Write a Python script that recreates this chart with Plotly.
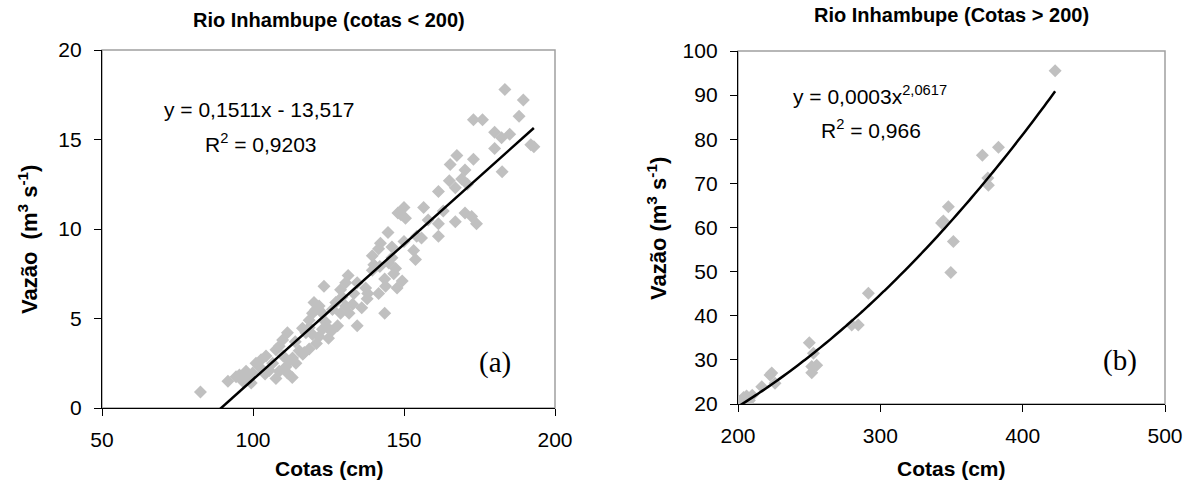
import plotly.graph_objects as go

W, H = 1191, 486

# ---- Rio Inhambupe, cotas < 200 ----
cota_a = [183.4, 189.5, 188.1, 173.0, 176.0, 180.0, 182.3, 180.0, 192.0, 182.5,
          167.5, 165.3, 173.0, 170.2, 169.1, 167.0, 161.4, 156.5, 148.0, 150.0,
          149.0, 167.0, 170.2, 172.4, 174.0, 161.4, 161.4, 154.2, 155.8, 153.2,
          153.8, 144.7, 142.2, 141.6, 146.0, 146.0, 139.5, 140.0, 139.5, 147.2,
          146.6, 149.4, 147.7, 143.6, 143.9, 141.6, 137.3, 137.8, 134.5, 133.4,
          131.5, 130.7, 143.6, 134.5, 123.5, 129.0, 129.5, 127.4, 126.3, 130.7,
          131.8, 129.0, 120.2, 121.9, 123.0, 119.7, 124.0, 125.2, 123.0, 121.9,
          118.6, 117.5, 119.7, 118.6, 117.0, 115.3, 116.5, 120.8, 118.6, 116.4,
          111.4, 109.8, 108.7, 107.6, 113.1, 114.2, 110.9, 111.4, 108.7, 107.6,
          105.4, 106.5, 104.3, 102.7, 102.1, 101.0, 97.7, 99.9, 95.5, 99.4,
          94.4, 96.6, 91.7, 82.6, 126.0, 128.0, 125.0, 121.0, 113.0, 112.0,
          114.0, 110.0, 104.0, 98.0, 133.0, 136.0, 138.0, 142.0, 145.0, 150.0,
          158.0, 163.0, 165.0, 171.0, 185.0, 150.5, 193.0]
vazao_a = [17.8, 17.2, 16.3, 16.1, 16.1, 15.4, 15.1, 14.5, 14.7, 13.2,
           14.1, 13.6, 13.9, 13.3, 12.8, 12.3, 12.1, 11.2, 10.9, 11.2,
           10.8, 10.4, 10.9, 10.7, 10.3, 10.3, 9.6, 9.6, 9.5, 8.8,
           8.3, 9.8, 9.2, 8.9, 9.0, 8.4, 8.5, 8.0, 7.7, 7.8,
           7.5, 7.1, 6.7, 7.2, 6.8, 6.4, 6.7, 6.1, 7.0, 6.4,
           7.4, 7.0, 5.3, 4.6, 6.8, 6.6, 6.2, 5.9, 5.5, 5.7,
           5.3, 5.3, 5.9, 5.7, 5.3, 5.3, 4.8, 4.4, 4.4, 4.0,
           4.5, 4.2, 4.1, 3.3, 3.1, 3.2, 3.0, 5.5, 4.9, 4.45,
           4.2, 3.8, 3.45, 3.25, 2.8, 2.5, 2.3, 1.95, 2.05, 1.65,
           2.1, 2.5, 2.9, 2.7, 2.3, 2.5, 2.05, 1.95, 1.85, 1.4,
           1.75, 1.5, 1.5, 0.9, 4.3, 4.6, 3.9, 3.6, 1.7, 2.6,
           3.7, 2.9, 1.9, 1.8, 5.8, 5.6, 6.4, 7.9, 8.1, 9.3,
           10.5, 11.0, 12.7, 12.5, 15.3, 10.6, 14.6]

# linear trendline y = a x + b
LIN_A, LIN_B = 0.1511, -13.517
EQ_A = "y = 0,1511x - 13,517"
R2_A = "0,9203"

# ---- Rio Inhambupe, cotas > 200 ----
cota_b = [201, 204, 206, 208, 210, 216.7, 222.5, 223.7, 226, 250.1,
          253, 251.8, 255.3, 251.8, 279.9, 284.5, 291.6, 343, 344.3, 347.8,
          349.5, 351.3, 371.7, 375.5, 375.9, 383, 422.8]
vazao_b = [20.5, 21.5, 21.8, 20.8, 22.0, 23.9, 26.6, 27.0, 24.7, 33.9,
           31.5, 28.5, 28.8, 27.1, 37.9, 37.9, 45.1, 61.0, 61.5, 64.7,
           49.8, 56.8, 76.4, 71.2, 69.6, 78.2, 95.5]

# power trendline y = a x^b (coefficient printed rounded as 0,0003)
POW_A, POW_B = 0.00035, 2.0617
EQ_B = "y = 0,0003x<sup>2,0617</sup>"
R2_B = "0,966"

x_ticks_a = [50, 100, 150, 200]
y_ticks_a = [0, 5, 10, 15, 20]
x_ticks_b = [200, 300, 400, 500]
y_ticks_b = [20, 30, 40, 50, 60, 70, 80, 90, 100]

# trendline samples over the observed range
n = 60
xa0, xa1 = min(cota_a), max(cota_a)
line_xa = [xa0 + (xa1 - xa0) * i / (n - 1) for i in range(n)]
line_ya = [LIN_A * x + LIN_B for x in line_xa]
xb0, xb1 = min(cota_b), max(cota_b)
line_xb = [xb0 + (xb1 - xb0) * i / (n - 1) for i in range(n)]
line_yb = [POW_A * x ** POW_B for x in line_xb]


def px(x):
    return x / W


def py(y):
    return 1 - y / H


FONT = "Liberation Sans, Arial, sans-serif"
SERIF = "Liberation Serif, Times New Roman, serif"
GRAY = "#c0c0c0"

fig = go.Figure()
mk = dict(symbol="diamond", size=10, color=GRAY, line=dict(width=0))
fig.add_trace(go.Scatter(x=cota_a, y=vazao_a, mode="markers", marker=mk,
                         xaxis="x", yaxis="y", showlegend=False))
fig.add_trace(go.Scatter(x=line_xa, y=line_ya, mode="lines",
                         line=dict(color="black", width=2.5),
                         xaxis="x", yaxis="y", showlegend=False))
fig.add_trace(go.Scatter(x=cota_b, y=vazao_b, mode="markers", marker=mk,
                         xaxis="x2", yaxis="y2", showlegend=False))
fig.add_trace(go.Scatter(x=line_xb, y=line_yb, mode="lines",
                         line=dict(color="black", width=2.5, shape="spline"),
                         xaxis="x2", yaxis="y2", showlegend=False))

ax_common = dict(showgrid=False, zeroline=False, showline=True, linecolor="black",
                 linewidth=1.3, ticks="outside", ticklen=7, tickwidth=1.3,
                 tickcolor="black", tickfont=dict(family=FONT, size=21, color="black"),
                 automargin=False, fixedrange=True)

fig.update_layout(
    width=W, height=H, margin=dict(l=0, r=0, t=0, b=0),
    paper_bgcolor="white", plot_bgcolor="white",
    xaxis=dict(ax_common, domain=[px(102), px(555)], range=[50, 200],
               tickvals=x_ticks_a, anchor="y", ticklabelstandoff=6),
    yaxis=dict(ax_common, domain=[py(408), py(50)], range=[0, 20],
               tickvals=y_ticks_a, anchor="x", ticklabelstandoff=8),
    xaxis2=dict(ax_common, domain=[px(738), px(1165)], range=[200, 500],
                tickvals=x_ticks_b, anchor="y2", ticklabelstandoff=6),
    yaxis2=dict(ax_common, domain=[py(404), py(51)], range=[20, 100],
                tickvals=y_ticks_b, anchor="x2", ticklabelstandoff=8),
)

# plot-area frames
for xr, yr in (("x domain", "y domain"), ("x2 domain", "y2 domain")):
    fig.add_shape(type="rect", xref=xr, yref=yr, x0=0, x1=1, y0=0, y1=1,
                  line=dict(color="#a0a0a0", width=1.5), layer="below")


def label(text, x, y, size=21, bold=False, family=FONT, angle=0):
    if bold:
        text = "<b>" + text + "</b>"
    fig.add_annotation(text=text, x=px(x), y=py(y), xref="paper", yref="paper",
                       showarrow=False, xanchor="center", yanchor="middle",
                       textangle=angle, font=dict(family=family, size=size, color="black"))


NB = "\u00a0"
# titles
label("Rio Inhambupe (cotas < 200)", 329, 20, size=20, bold=True)
label("Rio Inhambupe (Cotas > 200)", 951, 15, size=20, bold=True)
# axis titles
label("Cotas (cm)", 329, 468, size=21, bold=True)
label("Cotas (cm)", 951, 468, size=21, bold=True)
label("Vazão" + NB + NB + "(m<sup>3</sup> s<sup>-1</sup>)", 28, 240, size=22, bold=True, angle=-90)
label("Vazão (m<sup>3</sup> s<sup>-1</sup>)", 657, 228, size=22, bold=True, angle=-90)
# trendline equations
label(EQ_A, 259, 110)
label("R<sup>2</sup> = " + R2_A, 261, 143)
label(EQ_B, 870, 95)
label("R<sup>2</sup> = " + R2_B, 871, 129)
# panel letters
label("(a)", 495, 362, size=29, family=SERIF)
label("(b)", 1120, 360, size=29, family=SERIF)

fig.write_html("out.html")
